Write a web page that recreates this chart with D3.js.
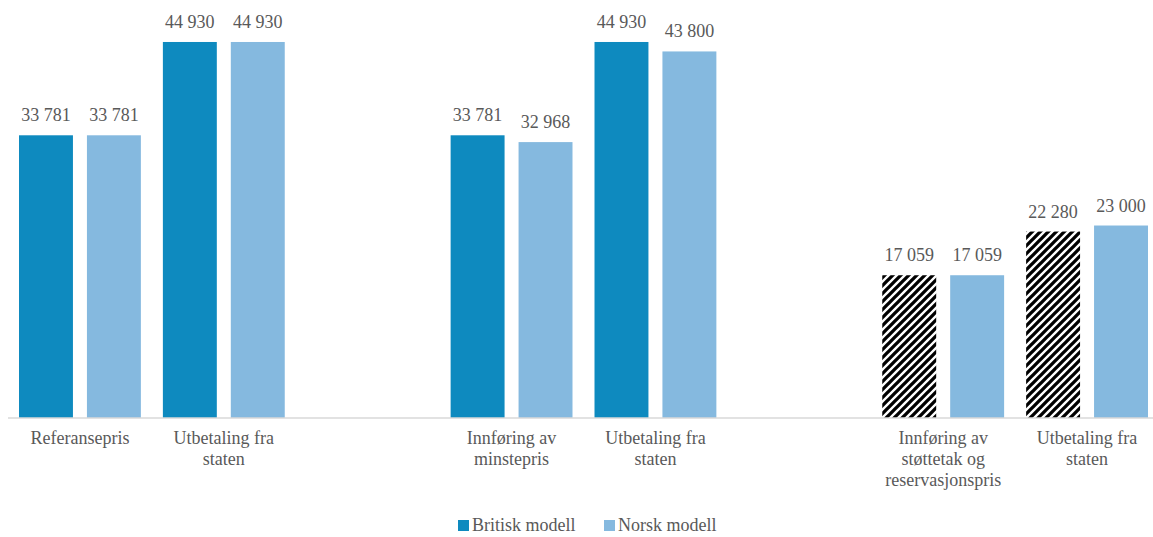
<!DOCTYPE html>
<html>
<head>
<meta charset="utf-8">
<script src="https://cdn.jsdelivr.net/npm/d3@7"></script>
<style>
  html, body { margin: 0; padding: 0; background: #fff; }
  svg { display: block; }
  text { font-family: "Liberation Serif", "Times New Roman", serif; fill: #595959; }
</style>
</head>
<body>
<script>
// ---- data ----
const categories = ["c1", "c2", "gap1", "c3", "c4", "gap2", "c5", "c6"];
const categoryLabels = [
  ["Referansepris"],
  ["Utbetaling fra", "staten"],
  [],
  ["Innføring av", "minstepris"],
  ["Utbetaling fra", "staten"],
  [],
  ["Innføring av", "støttetak og", "reservasjonspris"],
  ["Utbetaling fra", "staten"]
];
const seriesNames = ["Britisk modell", "Norsk modell"];
const britisk = [33781, 44930, null, 33781, 44930, null, 17059, 22280];
const norsk   = [33781, 44930, null, 32968, 43800, null, 17059, 23000];
const hatchedBritisk = [false, false, false, false, false, false, true, true];

// ---- layout ----
const W = 1153, H = 537;
const colors = ["#0e8abf", "#85b9df"];
const svg = d3.select("body").append("svg").attr("width", W).attr("height", H);

const defs = svg.append("defs");
const pat = defs.append("pattern")
  .attr("id", "hatch").attr("patternUnits", "userSpaceOnUse")
  .attr("width", 8).attr("height", 8);
pat.append("rect").attr("width", 8).attr("height", 8).attr("fill", "#fff");
pat.append("path").attr("d", "M-2,2 L2,-2 M0,8 L8,0 M6,10 L10,6")
  .attr("stroke", "#000").attr("stroke-width", 3.3);

const x = d3.scaleBand().domain(categories).range([8, 1159]).paddingInner(0).paddingOuter(0);
const x1 = d3.scaleBand().domain(seriesNames).range([0, x.bandwidth()]).paddingInner(0.206).paddingOuter(0.162);
const y = d3.scaleLinear().domain([0, 45000]).range([418, 41.4]);
const fmt = v => d3.format(",")(v).replace(/,/g, " ");

const rows = categories.map((c, i) => ({ c, i, vals: [britisk[i], norsk[i]] }));

const g = svg.append("g");
rows.forEach(r => {
  r.vals.forEach((v, s) => {
    if (v == null) return;
    const bx = x(r.c) + x1(seriesNames[s]);
    const fill = (s === 0 && hatchedBritisk[r.i]) ? "url(#hatch)" : colors[s];
    g.append("rect")
      .attr("x", bx).attr("y", y(v))
      .attr("width", x1.bandwidth()).attr("height", y(0) - y(v))
      .attr("fill", fill);
    g.append("text")
      .attr("x", bx + x1.bandwidth() / 2).attr("y", y(v) - 14)
      .attr("text-anchor", "middle").attr("font-size", 18)
      .text(fmt(v));
  });
});

// baseline axis
const xAxis = d3.axisBottom(x).tickSize(0).tickFormat("");
const ax = svg.append("g").attr("transform", `translate(0,${y(0)})`).call(xAxis);
ax.select(".domain").attr("stroke", "#d9d9d9").attr("stroke-width", 1.5).attr("d", `M8,0H1153`);

// category labels
rows.forEach(r => {
  const lines = categoryLabels[r.i];
  lines.forEach((ln, k) => {
    svg.append("text")
      .attr("x", x(r.c) + x.bandwidth() / 2).attr("y", 444 + k * 21)
      .attr("text-anchor", "middle").attr("font-size", 18)
      .text(ln);
  });
});

// legend
const legendItems = [{ name: seriesNames[0], x: 458 }, { name: seriesNames[1], x: 604 }];
legendItems.forEach((d, i) => {
  svg.append("rect").attr("x", d.x).attr("y", 520).attr("width", 11).attr("height", 11).attr("fill", colors[i]);
  svg.append("text").attr("x", d.x + 14).attr("y", 531).attr("font-size", 18).text(d.name);
});
</script>
</body>
</html>
